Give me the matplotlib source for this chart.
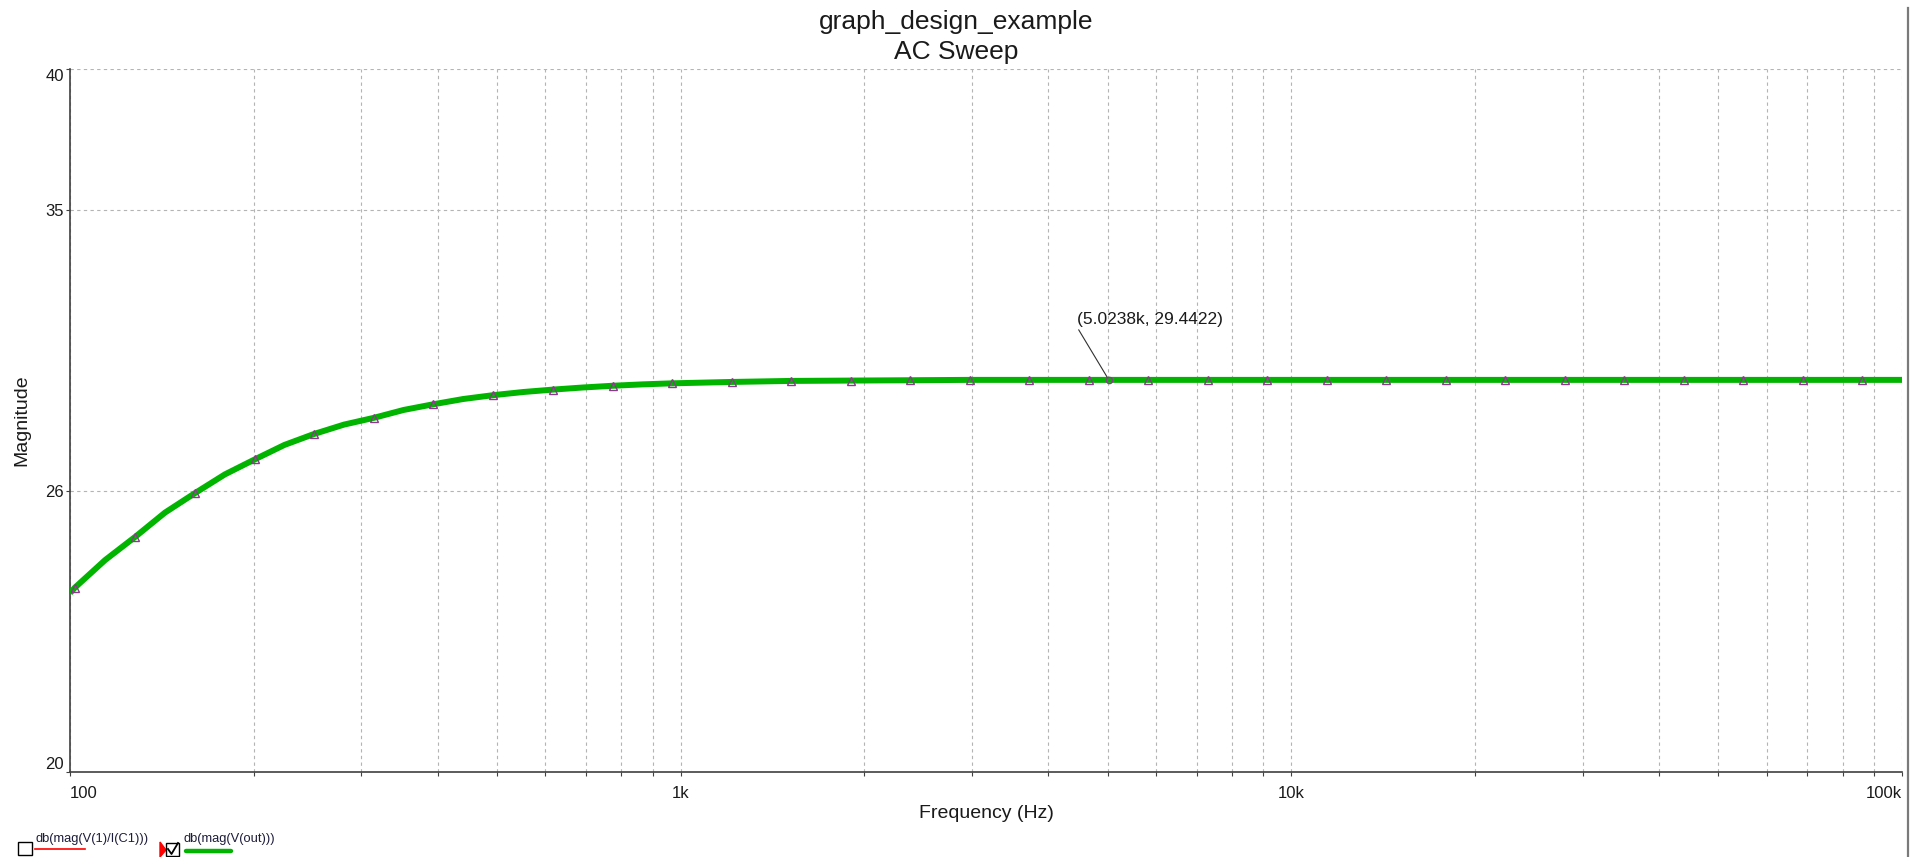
import numpy as np
import matplotlib
matplotlib.use('Agg')
import matplotlib.pyplot as plt
import matplotlib.ticker as mticker
from matplotlib.lines import Line2D
from matplotlib.patches import Rectangle, Polygon

plt.rcParams['font.family'] = ['Liberation Sans', 'DejaVu Sans']

# values at the marker points (Hz, dB)
freq = [101.9, 127.9, 160.2, 200.7, 250.9, 314.7, 393.4, 493.3, 618.5,
        773.9, 968.7, 1212, 1517, 1898, 2376, 2973, 3721, 4657, 5828,
        7294, 9128, 11420, 14300, 17890, 22390, 28030, 35070, 43890, 54930,
        68750, 86040]
mag = [23.99, 25.22, 26.33, 27.22, 27.91, 28.36, 28.74, 29.00, 29.16,
       29.27, 29.34, 29.38, 29.41, 29.42, 29.43, 29.44, 29.44, 29.44, 29.44,
       29.44, 29.44, 29.44, 29.44, 29.44, 29.44, 29.44, 29.44, 29.44, 29.44,
       29.44, 29.44]
# extra points read on the trace between markers and at the ends
freq_extra = [100, 114.2, 143.1, 179.3, 224.4, 281.0, 351.9, 440.5, 552.4,
              691.9, 865.8, 100000]
mag_extra = [23.86, 24.65, 25.83, 26.82, 27.61, 28.17, 28.58, 28.89, 29.09,
             29.22, 29.31, 29.44]
cursor_f = 5023.8
cursor_v = 29.4422

x_ticks = [100, 1000, 10000, 100000]
x_labels = ['100', '1k', '10k', '100k']
y_ticks = [20, 26.39, 34.82, 40]
y_labels = ['20', '26', '35', '40']

W, H = 1919, 857
fig = plt.figure(figsize=(W / 100, H / 100), dpi=100)
ax = fig.add_axes([70 / W, 1 - 772 / H, (1902 - 70) / W, (772 - 69) / H])
ax.set_xscale('log')
ax.set_yscale('log')
ax.set_xlim(100, 100000)
ax.set_ylim(20, 40)

ax.set_xticks(x_ticks, x_labels)
ax.xaxis.set_minor_locator(mticker.LogLocator(base=10, subs=range(2, 10)))
ax.xaxis.set_minor_formatter(mticker.NullFormatter())
ax.set_yticks(y_ticks, y_labels)
ax.yaxis.set_minor_locator(mticker.NullLocator())

grid_kw = dict(ls=(0, (3, 3)), color='#b4b4b4', lw=0.8)
ax.grid(True, which='both', axis='x', **grid_kw)
ax.grid(True, which='major', axis='y', **grid_kw)

for s in ['top', 'right']:
    ax.spines[s].set_visible(False)
for s in ['left', 'bottom']:
    ax.spines[s].set_color('#404040')
    ax.spines[s].set_linewidth(1.2)

ax.tick_params(axis='both', which='both', direction='out', length=3, width=0.8,
               color='#404040', labelsize=12, labelcolor='#1a1a1a')
ax.tick_params(axis='x', pad=7)
ax.tick_params(axis='y', pad=1.5)

ylabs = ax.get_yticklabels()
ylabs[0].set_va('bottom')
ylabs[-1].set_va('top')
xlabs = ax.get_xticklabels()
xlabs[0].set_ha('left')
xlabs[-1].set_ha('right')

order = np.argsort(freq + freq_extra)
line_f = np.array(freq + freq_extra)[order]
line_m = np.array(mag + mag_extra)[order]
ax.plot(line_f, line_m, color='#00b400', lw=4.3, solid_capstyle='butt',
        solid_joinstyle='round', zorder=3)
ax.plot(freq, mag, ls='none', marker='^', ms=6, mfc='none',
        mec='#8a3a8a', mew=1, zorder=4)
ax.plot(cursor_f, cursor_v, ls='none', marker='o', ms=4.5, mfc='none',
        mec='#8a3a8a', mew=1, zorder=5)
ax.annotate('(%.4fk, %.4f)' % (cursor_f / 1000, cursor_v),
            xy=(cursor_f, cursor_v), xytext=(1077, H - 324),
            textcoords='figure pixels', ha='left', va='baseline',
            fontsize=12.5, color='#1a1a1a',
            arrowprops=dict(arrowstyle='-', color='#303030', lw=0.8,
                            relpos=(0, 0), shrinkA=0, shrinkB=2))

ax.set_xlabel('Frequency (Hz)', fontsize=14, color='#1a1a1a')
ax.xaxis.set_label_coords(0.5, (772 - 814) / (772 - 69))
ax.xaxis.label.set_va('center')
ax.set_ylabel('Magnitude', fontsize=14, color='#1a1a1a')
ax.yaxis.set_label_coords((22 - 70) / (1902 - 70), 0.5)
ax.yaxis.label.set_va('center')

fig.text(956 / W, 1 - 22 / H, 'graph_design_example', ha='center', va='center',
         fontsize=19, color='#1a1a1a')
fig.text(956 / W, 1 - 52 / H, 'AC Sweep', ha='center', va='center',
         fontsize=19, color='#1a1a1a')


def fx(x):
    return x / W


def fy(y):
    return 1 - y / H


# trace legend under the plot
tf = fig.transFigure
fig.add_artist(Rectangle((fx(18), fy(855)), 14 / W, 13 / H, fill=False,
                         ec='black', lw=1, transform=tf))
fig.text(fx(35), fy(839), 'db(mag(V(1)/I(C1)))', ha='left', va='center',
         fontsize=9.3, color='#1c1c3c')
fig.add_artist(Line2D([fx(35), fx(85)], [fy(849), fy(849)], color='red',
                      lw=1.2, transform=tf))
fig.add_artist(Polygon([(fx(160), fy(842)), (fx(160), fy(857)), (fx(166), fy(850))],
                       closed=True, color='red', transform=tf))
fig.add_artist(Rectangle((fx(166), fy(856)), 13 / W, 13 / H, fill=False,
                         ec='black', lw=1, transform=tf))
fig.add_artist(Line2D([fx(168), fx(171.5), fx(178)], [fy(849), fy(854), fy(843)],
                      color='black', lw=1.3, transform=tf))
fig.text(fx(183), fy(839), 'db(mag(V(out)))', ha='left', va='center',
         fontsize=9.3, color='#1c1c3c')
fig.add_artist(Line2D([fx(186), fx(231)], [fy(851), fy(851)], color='#00b400',
                      lw=3.2, solid_capstyle='round', transform=tf))

# window border on the right
fig.add_artist(Line2D([fx(1908), fx(1908)], [0, fy(8)], color='#7a7a7a',
                      lw=1.6, transform=tf))

fig.savefig('out.png', dpi=100)
